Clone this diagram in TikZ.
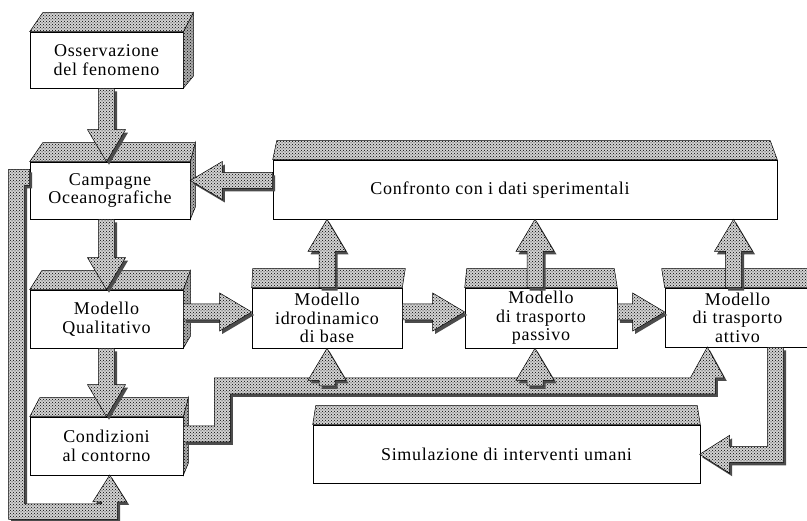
\documentclass[tikz,border=0pt]{standalone}
\usepackage{fontspec}
\setmainfont{Liberation Serif}[LetterSpace=4]
\usepackage{tikz}
\usetikzlibrary{calc, patterns}

\newcommand{\boxfont}{\fontsize{18}{18.5}\selectfont}

\tikzset{
  blk/.style={draw, line width=0.6pt, fill=white, inner sep=0pt, align=center, font=\boxfont, minimum height=58pt},
  face/.style={draw, line width=0.5pt, preaction={fill=gray!35}, pattern=crosshatch dots},
  side/.style={draw, line width=0.5pt, preaction={fill=gray!65}, pattern=crosshatch dots},
  fatface/.style={draw, line width=0.5pt, preaction={fill=gray!35}, pattern=crosshatch dots},
  fatshade/.style={fill=black!70}
}

% shaded faces of a block: top (node, dx left, dx right) and right side (node, dx)
\newcommand{\topface}[3]{\path[face] (#1.north west) -- ++(#2,-19) -- ($(#1.north east)+(#3,-19)$) -- (#1.north east) -- cycle;}
\newcommand{\sideface}[2]{\path[side] (#1.north east) -- ++(#2,-19) -- ($(#1.south east)+(#2,-12)$) -- (#1.south east) -- cycle;}
% fat arrow outline with its dark shadow
\newcommand{\fatpoly}[1]{\begin{scope}[transform canvas={shift={(2.5pt,-3pt)}}]\fill[fatshade] #1;\end{scope}\path[fatface] #1;}
\newcommand{\fatarrow}[2]{\coordinate (fh) at ($(#2)!32pt!(#1)$);
  \fatpoly{($(#1)!8pt!90:(#2)$) -- ($(fh)!8pt!-90:(#1)$) -- ($(fh)!19pt!-90:(#1)$) -- (#2) -- ($(fh)!19pt!90:(#1)$) -- ($(fh)!8pt!90:(#1)$) -- ($(#1)!8pt!-90:(#2)$) -- cycle}}

\begin{document}
\begin{tikzpicture}[x=1pt, y=-1pt]
  \useasboundingbox (0,0) rectangle (807,521);
  \clip (0,0) rectangle (807,521);
  % Blocks:
  \node[blk, minimum width=153pt, minimum height=56pt] (obs) at (106.5,60) {Osservazione\\del fenomeno};
  \node[blk, minimum width=160pt, minimum height=57pt] (camp) at (110,190.5) {Campagne\\Oceanografiche};
  \node[blk, minimum width=153pt] (qual) at (106.5,319) {Modello\\Qualitativo};
  \node[blk, minimum width=153pt] (cond) at (106.5,446) {Condizioni\\al contorno};
  \node[blk, minimum width=504pt, minimum height=59pt] (conf) at (525,189.5) {};
  \node[font=\boxfont] (confT) at (500,190) {Confronto con i dati sperimentali};
  \node[blk, minimum width=150pt, minimum height=60pt] (idro) at (327,318) {Modello\\idrodinamico\\di base};
  \node[blk, minimum width=152pt, minimum height=60pt] (pass) at (541,318) {Modello\\di trasporto\\passivo};
  \node[blk, minimum width=145pt, minimum height=59pt] (att) at (737.5,317.5) {Modello\\di trasporto\\attivo};
  \node[blk, minimum width=387pt] (sim) at (506.5,454) {Simulazione di interventi umani};

  % 3d faces
  \sideface{obs}{10}  \topface{obs}{13}{10}
  \sideface{camp}{5}  \topface{camp}{13}{5}
  \sideface{qual}{7}  \topface{qual}{12}{7}
  \sideface{cond}{5}  \topface{cond}{10}{5}
  \topface{conf}{4}{-7}
  \topface{idro}{1}{3}
  \topface{pass}{2}{-3}
  \topface{att}{-3}{0}
  \topface{sim}{3}{-3}

  % Arrows down the left column
  \coordinate (ocH) at (obs.south |- camp.north);
  \fatarrow{obs.south}{ocH}
  \coordinate (cqT) at (camp.south -| qual.north);
  \fatarrow{cqT}{qual.north}
  \fatarrow{qual.south}{cond.north}

  % back to the campaigns
  \coordinate (cfT) at ($(conf.west)+(0,-9)$);
  \coordinate (cfH) at (cfT -| camp.east);
  \fatarrow{cfT}{cfH}

  % chain of models
  \coordinate (qiT) at ($(qual.east)+(0,-7)$);
  \coordinate (qiH) at (qiT -| idro.west);
  \fatarrow{qiT}{qiH}
  \coordinate (ipT) at ($(idro.east)+(0,-6)$);
  \coordinate (ipH) at (ipT -| pass.west);
  \fatarrow{ipT}{ipH}
  \coordinate (paT) at ($(pass.east)+(0,-6)$);
  \coordinate (paH) at (paT -| att.west);
  \fatarrow{paT}{paH}

  % models to the comparison
  \coordinate (icH) at (idro.north |- conf.south);
  \fatarrow{idro.north}{icH}
  \coordinate (pcT) at ($(pass.north)+(-6,0)$);
  \coordinate (pcH) at (pcT |- conf.south);
  \fatarrow{pcT}{pcH}
  \coordinate (acT) at ($(att.north)+(-4,0)$);
  \coordinate (acH) at (acT |- conf.south);
  \fatarrow{acT}{acH}

  % campaigns to boundary conditions (loop on the left)
  \fatpoly{($(camp.west)+(0,-21)$) -- ++(-21,0) -- ++(0,350) -- ++(109,0) -- ++(0,-17.5) -- ++(9,0) -- ++(-17,-27) -- ++(-17,27) -- ++(9,0) -- ++(0,2) -- ++(-77,0) -- ++(0,-318.5) -- ++(5,0) -- cycle}

  % boundary conditions bus to the models
  \fatpoly{($(cond.east)+(0,-20)$) -- ++(31,0) -- ++(0,-48) -- ++(476,0) -- ++(17,-31) -- ++(17,31) -- ++(-9,0) -- ++(0,16) -- ++(-485,0) -- ++(0,48) -- ++(-47,0) -- cycle}
  \coordinate (busM) at ($(cond.east)+(40,-60)$);
  \coordinate (biT) at (idro.south |- busM);
  \fatarrow{biT}{idro.south}
  \coordinate (bpH) at ($(pass.south)+(-6,0)$);
  \coordinate (bpT) at (bpH |- busM);
  \fatarrow{bpT}{bpH}

  % active transport to human interventions
  \coordinate (asT) at ($(att.south west)+(111,0)$);
  \fatpoly{($(asT)+(-8,0)$) -- ++(0,99) -- ++(-38,0) -- ++(0,-11) -- ++(-30,19) -- ++(30,19) -- ++(0,-11) -- ++(54,0) -- ++(0,-115) -- cycle}
\end{tikzpicture}
\end{document}
